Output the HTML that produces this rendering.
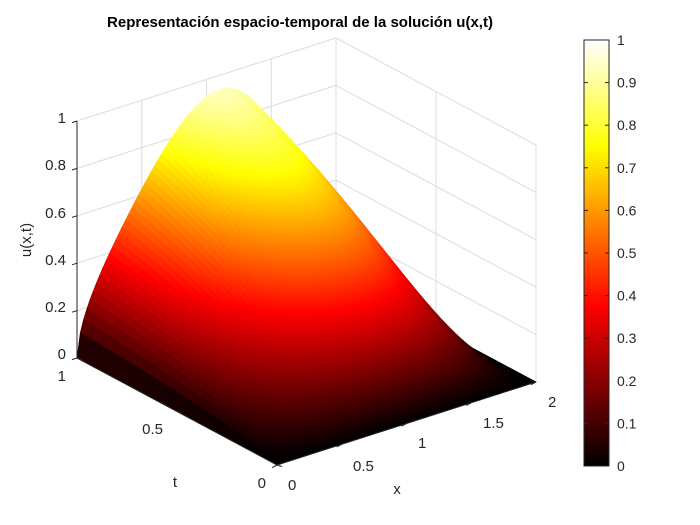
<!DOCTYPE html>
<html><head><meta charset="utf-8"><style>
html,body{margin:0;padding:0;background:#fff;}
svg{display:block;font-family:"Liberation Sans",Arial,sans-serif;}
</style></head><body>
<svg id="s" width="700" height="525" viewBox="0 0 700 525" xmlns="http://www.w3.org/2000/svg">
<defs>
<linearGradient id="cb" x1="0" y1="1" x2="0" y2="0">
<stop offset="0" stop-color="#000"/>
<stop offset="0.375" stop-color="#f00"/>
<stop offset="0.75" stop-color="#ff0"/>
<stop offset="1" stop-color="#fff"/>
</linearGradient>
</defs>
<rect width="700" height="525" fill="#fff"/>
<g id="grid" stroke="#dcdcdc" stroke-width="1" fill="none"></g>
<g id="surf"></g>
<g id="axes" stroke="#262626" stroke-width="1" fill="none"></g>
<g fill="#262626" font-size="15">
<text x="66" y="123" text-anchor="end">1</text>
<text x="66" y="170" text-anchor="end">0.8</text>
<text x="66" y="218" text-anchor="end">0.6</text>
<text x="66" y="265" text-anchor="end">0.4</text>
<text x="66" y="312" text-anchor="end">0.2</text>
<text x="66" y="359" text-anchor="end">0</text>
<text x="66" y="381" text-anchor="end">1</text>
<text x="163" y="434" text-anchor="end">0.5</text>
<text x="266" y="488" text-anchor="end">0</text>
<text x="288" y="490">0</text>
<text x="353" y="471">0.5</text>
<text x="418" y="448">1</text>
<text x="483" y="428">1.5</text>
<text x="548" y="407">2</text>
<text x="175" y="487" text-anchor="middle">t</text>
<text x="397" y="494" text-anchor="middle">x</text>
<text transform="translate(31,240) rotate(-90)" text-anchor="middle">u(x,t)</text>
</g>
<text x="300" y="27" text-anchor="middle" font-weight="bold" font-size="15" fill="#000">Representación espacio-temporal de la solución u(x,t)</text>
<rect x="584" y="40" width="25" height="426" fill="url(#cb)" stroke="#262626" stroke-width="1"/>
<g id="cbt" stroke="#262626"></g>
<g id="cbl" fill="#262626" font-size="14"></g>
</svg>
<script>
var NS="http://www.w3.org/2000/svg";
function P(x,t,z){return [277+129.5*x-200*t, 465-41.5*x-107*t-237*z];}
function el(tag,attrs,parent){var e=document.createElementNS(NS,tag);for(var k in attrs)e.setAttribute(k,attrs[k]);parent.appendChild(e);return e;}
function line(a,b,g){el('line',{x1:a[0],y1:a[1],x2:b[0],y2:b[1]},g);}
var G=document.getElementById('grid');
for(var z=0;z<=1.001;z+=0.2){line(P(0,1,z),P(2,1,z),G);line(P(2,1,z),P(2,0,z),G);}
[0.5,1,1.5,2].forEach(function(x){line(P(x,1,0),P(x,1,1),G);});
line(P(2,0.5,0),P(2,0.5,1),G);line(P(2,0,0),P(2,0,1),G);
[0.5,1,1.5].forEach(function(x){line(P(x,0,0),P(x,1,0),G);});
line(P(0,0.5,0),P(2,0.5,0),G);
function g(t){return (1-Math.exp(-1.5*t))/(1-Math.exp(-1.5));}
function f0(x){return Math.pow(Math.max(0,Math.sin(Math.PI*x/2)),0.6+0.35*x)*Math.exp(0.25*x);}
var fn=0;for(var xx=0;xx<=2;xx+=0.001){var v=f0(xx);if(v>fn)fn=v;}
function f(x){return f0(x)/fn;}
function u(x,t){return 0.94*f(x)*g(t);}
function hot(v){v=Math.max(0,Math.min(1,v));var r=Math.min(1,v/0.375),gg=Math.max(0,Math.min(1,(v-0.375)/0.375)),b=Math.max(0,Math.min(1,(v-0.75)/0.25));
return 'rgb('+Math.round(r*255)+','+Math.round(gg*255)+','+Math.round(b*255)+')';}
var S=document.getElementById('surf');var N=80,M=200,q=[];
for(var i=0;i<N;i++)for(var j=0;j<M;j++){var x0=2*i/N,x1=2*(i+1)/N,t0=j/M,t1=(j+1)/M;q.push([x0,x1,t0,t1,41.5*(x0+x1)/2+107*(t0+t1)/2]);}
q.sort(function(a,b){return b[4]-a[4];});
var frag=document.createDocumentFragment();
q.forEach(function(c){var pts=[[c[0],c[2]],[c[1],c[2]],[c[1],c[3]],[c[0],c[3]]];var s='',sum=0;
pts.forEach(function(p){var z=u(p[0],p[1]);sum+=z;var r=P(p[0],p[1],z);s+=r[0].toFixed(2)+','+r[1].toFixed(2)+' ';});
var col=hot(sum/4);var e=document.createElementNS(NS,'polygon');e.setAttribute('points',s);e.setAttribute('fill',col);e.setAttribute('stroke',col);e.setAttribute('stroke-width','0.6');frag.appendChild(e);});
S.appendChild(frag);
var A=document.getElementById('axes');
line(P(0,1,0),P(0,1,1),A);line(P(0,0,0),P(0,1,0),A);line(P(0,0,0),P(2,0,0),A);
for(var z=0;z<=1.001;z+=0.2){var p=P(0,1,z);line(p,[p[0]-5,p[1]+1.6],A);}
[0,0.5,1].forEach(function(t){var p=P(0,t,0);line(p,[p[0]+5,p[1]+1.5],A);});
[0,0.5,1,1.5,2].forEach(function(x){var p=P(x,0,0);line(p,[p[0]-5,p[1]+2.7],A);});
var CT=document.getElementById('cbt'),CL=document.getElementById('cbl');
for(var k=0;k<=10;k++){var y=466-42.6*k;line([584,y],[588,y],CT);line([605,y],[609,y],CT);
var tx=el('text',{x:617,y:y+5},CL);tx.textContent=(k==0?'0':k==10?'1':'0.'+k);}
</script>
</body></html>
